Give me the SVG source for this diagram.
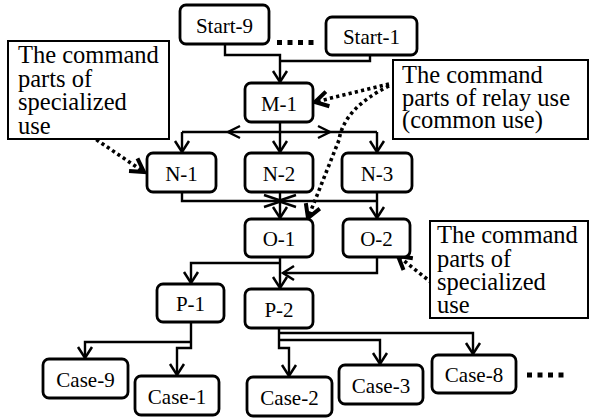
<svg xmlns="http://www.w3.org/2000/svg" width="590" height="418" viewBox="0 0 590 418">
  <defs>
    <style>
      .node rect { fill: #fff; stroke: #000; stroke-width: 2.8; }
      .node text { font-family: "Liberation Serif", "Times New Roman", serif; font-size: 21px; text-anchor: middle; fill: #000; }
      .note rect { fill: #fff; stroke: #000; stroke-width: 2; }
      .note text { font-family: "Liberation Serif", "Times New Roman", serif; font-size: 24.5px; fill: #000; }
      .wire { fill: none; stroke: #000; stroke-width: 2.4; stroke-linejoin: miter; }
      .head { fill: none; stroke: #000; stroke-width: 2.4; }
      .dot { fill: none; stroke: #000; stroke-width: 3.6; stroke-dasharray: 3.2 3.2; }
      .ellipsis { fill: none; stroke: #000; stroke-width: 5; stroke-dasharray: 5 5.5; }
    </style>
    <marker id="arr" markerUnits="userSpaceOnUse" viewBox="-14 -9 16 18" markerWidth="16" markerHeight="18" refX="0" refY="0" orient="auto" overflow="visible">
      <path d="M-11,-7 L0,0 L-11,7" fill="none" stroke="#000" stroke-width="2.5"/>
    </marker>
    <marker id="darr" markerUnits="userSpaceOnUse" viewBox="-16 -10 18 20" markerWidth="18" markerHeight="20" refX="0" refY="0" orient="auto" overflow="visible">
      <path d="M-13,-7.5 L0,0 L-13,7.5" fill="none" stroke="#000" stroke-width="4"/>
    </marker>
  </defs>

  <rect width="590" height="418" fill="#fff"/>

  <!-- connectors -->
  <g id="connectors">
    <!-- starts to M-1 -->
    <path class="wire" d="M225,44 V55 H280 V82" marker-end="url(#arr)"/>
    <path class="wire" d="M370,55 V61 H280"/>
    <!-- M-1 fan-out to N row -->
    <path class="wire" d="M280,122 V132"/>
    <path class="wire" d="M182,132 H377"/>
    <path class="head" d="M240,126 L228,132 L240,138"/>
    <path class="head" d="M318,126 L330,132 L318,138"/>
    <path class="wire" d="M182,132 V152" marker-end="url(#arr)"/>
    <path class="wire" d="M280,132 V152" marker-end="url(#arr)"/>
    <path class="wire" d="M377,132 V152" marker-end="url(#arr)"/>
    <!-- N row to O row -->
    <path class="wire" d="M182,192 V201 H377"/>
    <path class="head" d="M264,195 L282,201 L264,207"/>
    <path class="head" d="M296,195 L278,201 L296,207"/>
    <path class="wire" d="M280,192 V218" marker-end="url(#arr)"/>
    <path class="wire" d="M377,192 V218" marker-end="url(#arr)"/>
    <!-- O row to P row -->
    <path class="wire" d="M280,257 V288" marker-end="url(#arr)"/>
    <path class="wire" d="M280,263 H191 V283" marker-end="url(#arr)"/>
    <path class="wire" d="M377,257 V273 H283" marker-end="url(#arr)"/>
    <!-- P-1 to cases -->
    <path class="wire" d="M191,322 V348 H177 V375" marker-end="url(#arr)"/>
    <path class="wire" d="M191,342 H85 V358" marker-end="url(#arr)"/>
    <!-- P-2 to cases -->
    <path class="wire" d="M279,328 V348 H289 V376" marker-end="url(#arr)"/>
    <path class="wire" d="M279,333 H473 V354" marker-end="url(#arr)"/>
    <path class="wire" d="M279,340 H380 V364" marker-end="url(#arr)"/>
    <!-- dotted pointers from the notes -->
    <path class="dot" d="M91,136 L144,172" marker-end="url(#darr)"/>
    <path class="dot" d="M389,84 L315,102" marker-end="url(#darr)"/>
    <path class="dot" d="M389,86 Q344,108 339,140 L308,218" marker-end="url(#darr)"/>
    <path class="dot" d="M432,283 L398,256" marker-end="url(#darr)"/>
    <!-- continuation marks -->
    <path class="ellipsis" d="M277,42.5 H316"/>
    <path class="ellipsis" d="M527,375 H566"/>
  </g>

  <!-- nodes -->
  <g id="start-9" class="node"><rect x="180" y="5" width="89" height="39" rx="6"/><text x="224.5" y="32.5">Start-9</text></g>
  <g id="start-1" class="node"><rect x="326" y="17" width="91" height="38" rx="6"/><text x="371.5" y="44">Start-1</text></g>
  <g id="m-1" class="node"><rect x="245" y="83" width="68" height="39" rx="6"/><text x="279" y="110.5">M-1</text></g>
  <g id="n-1" class="node"><rect x="147" y="153" width="69" height="39" rx="6"/><text x="181.5" y="180.5">N-1</text></g>
  <g id="n-2" class="node"><rect x="245" y="153" width="68" height="39" rx="6"/><text x="279" y="180.5">N-2</text></g>
  <g id="n-3" class="node"><rect x="342" y="153" width="70" height="39" rx="6"/><text x="377" y="180.5">N-3</text></g>
  <g id="o-1" class="node"><rect x="245" y="219" width="68" height="38" rx="6"/><text x="279" y="246">O-1</text></g>
  <g id="o-2" class="node"><rect x="343" y="219" width="67" height="38" rx="6"/><text x="376.5" y="246">O-2</text></g>
  <g id="p-1" class="node"><rect x="157" y="284" width="67" height="38" rx="6"/><text x="190.5" y="311">P-1</text></g>
  <g id="p-2" class="node"><rect x="245" y="289" width="68" height="39" rx="6"/><text x="279" y="316.5">P-2</text></g>
  <g id="case-9" class="node"><rect x="43" y="359" width="85" height="39" rx="6"/><text x="85.5" y="386.5">Case-9</text></g>
  <g id="case-1" class="node"><rect x="135" y="376" width="84" height="39" rx="6"/><text x="177" y="403.5">Case-1</text></g>
  <g id="case-2" class="node"><rect x="247" y="377" width="85" height="39" rx="6"/><text x="289.5" y="404.5">Case-2</text></g>
  <g id="case-3" class="node"><rect x="339" y="365" width="84" height="39" rx="6"/><text x="381" y="392.5">Case-3</text></g>
  <g id="case-8" class="node"><rect x="432" y="355" width="84" height="38" rx="6"/><text x="474" y="382">Case-8</text></g>

  <!-- explanatory notes -->
  <g id="note-specialized-left" class="note">
    <rect x="8" y="41" width="161" height="98"/>
    <text x="18" y="63">The command</text>
    <text x="18" y="86.5">parts of</text>
    <text x="18" y="110">specialized</text>
    <text x="18" y="133.5">use</text>
  </g>
  <g id="note-relay" class="note">
    <rect x="393" y="60" width="195" height="79"/>
    <text x="402" y="83">The command</text>
    <text x="402" y="106">parts of relay use</text>
    <text x="402" y="128">(common use)</text>
  </g>
  <g id="note-specialized-right" class="note">
    <rect x="430" y="221" width="158" height="97"/>
    <text x="437" y="243">The command</text>
    <text x="437" y="266.5">parts of</text>
    <text x="437" y="290">specialized</text>
    <text x="437" y="313">use</text>
  </g>
</svg>
